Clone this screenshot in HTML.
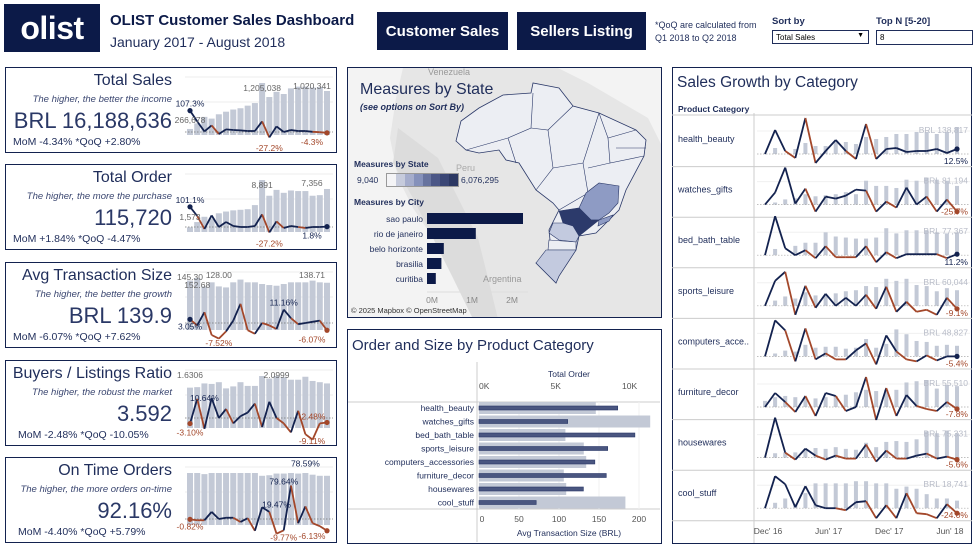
<!DOCTYPE html>
<html><head><meta charset="utf-8">
<style>
*{box-sizing:border-box;margin:0;padding:0}
body{width:977px;height:552px;background:#fff;font-family:"Liberation Sans",sans-serif;color:#1f2d5a;position:relative;overflow:hidden}
.abs{position:absolute}
.panel{position:absolute;border:1.5px solid #13224f;background:#fff}
.btn{position:absolute;background:#0c1a48;color:#fff;font-weight:bold;font-size:15px;display:flex;align-items:center;justify-content:center}
.kt{position:absolute;right:164px;font-size:16px;white-space:nowrap;text-align:right}
.ks{position:absolute;right:164px;font-size:9.5px;font-style:italic;white-space:nowrap;color:#3a4670}
.kv{position:absolute;right:164px;font-size:22px;white-space:nowrap;color:#2a3866}
.km{position:absolute;left:7px;font-size:10.5px;white-space:nowrap;color:#1f2d5a}
svg text{font-family:"Liberation Sans",sans-serif}
</style></head><body>

<div class="abs" style="left:4px;top:4px;width:96px;height:48px;background:#0c1a48;color:#fff;font-size:32px;font-weight:bold;display:flex;align-items:center;justify-content:center;letter-spacing:-0.5px">olist</div>
<div class="abs" style="left:110px;top:12px;font-size:15px;font-weight:bold;color:#0c1a48">OLIST Customer Sales Dashboard</div>
<div class="abs" style="left:110px;top:34px;font-size:14px;color:#1f2d5a">January 2017 - August 2018</div>
<div class="btn" style="left:377px;top:12px;width:131px;height:38px">Customer Sales</div>
<div class="btn" style="left:517px;top:12px;width:129px;height:38px">Sellers Listing</div>
<div class="abs" style="left:655px;top:19px;font-size:9px;line-height:13px;color:#1f2d5a">*QoQ are calculated from<br>Q1 2018 to Q2 2018</div>
<div class="abs" style="left:772px;top:16px;font-size:9.5px;font-weight:bold">Sort by</div>
<div class="abs" style="left:772px;top:30px;width:97px;height:14px;border:1px solid #1f2d5a;font-size:8px;padding:2px 3px;color:#000">Total Sales<span style="position:absolute;right:4px;top:1px;font-size:7px">▼</span></div>
<div class="abs" style="left:876px;top:16px;font-size:9.5px;font-weight:bold">Top N [5-20]</div>
<div class="abs" style="left:876px;top:30px;width:97px;height:15px;border:1px solid #1f2d5a;font-size:8px;padding:2px 3px;color:#000">8</div>

<!-- KPI cards -->
<div class="panel" style="left:5px;top:67px;width:332px;height:86px">
 <div class="kt" style="top:4px">Total Sales</div>
 <div class="ks" style="top:26px">The higher, the better the income</div>
 <div class="kv" style="top:40px">BRL 16,188,636</div>
 <div class="km" style="top:68px">MoM -4.34% *QoQ +2.80%</div>
</div>
<div class="panel" style="left:5px;top:164px;width:332px;height:86px">
 <div class="kt" style="top:4px">Total Order</div>
 <div class="ks" style="top:26px">The higher, the more the purchase</div>
 <div class="kv" style="top:40px">115,720</div>
 <div class="km" style="top:68px">MoM +1.84% *QoQ -4.47%</div>
</div>
<div class="panel" style="left:5px;top:262px;width:332px;height:86px">
 <div class="kt" style="top:4px">Avg Transaction Size</div>
 <div class="ks" style="top:26px">The higher, the better the growth</div>
 <div class="kv" style="top:40px">BRL 139.9</div>
 <div class="km" style="top:68px">MoM -6.07% *QoQ +7.62%</div>
</div>
<div class="panel" style="left:5px;top:360px;width:332px;height:86px">
 <div class="kt" style="top:4px">Buyers / Listings Ratio</div>
 <div class="ks" style="top:26px">The higher, the robust the market</div>
 <div class="kv" style="top:40px">3.592</div>
 <div class="km" style="top:68px;left:12px">MoM -2.48% *QoQ -10.05%</div>
</div>
<div class="panel" style="left:5px;top:457px;width:332px;height:86px">
 <div class="kt" style="top:4px">On Time Orders</div>
 <div class="ks" style="top:26px">The higher, the more orders on-time</div>
 <div class="kv" style="top:40px">92.16%</div>
 <div class="km" style="top:68px;left:12px">MoM -4.40% *QoQ +5.79%</div>
</div>

<!-- Map panel -->
<div class="panel" style="left:347px;top:67px;width:315px;height:251px;overflow:hidden">
<svg id="mapsvg" width="315" height="251" style="position:absolute;left:0;top:0">
 <rect width="315" height="251" fill="#f3f3f3"/>
 <polygon points="55,0 210,0 240,15 300,50 315,80 315,251 150,251 125,230 100,200 85,170 65,140 50,110 42,70 48,30" fill="#e6e6e6"/>
 <polygon points="50,60 90,90 110,130 130,170 140,210 150,251 125,251 105,210 85,170 65,130 45,95" fill="#dcdcdc"/>
 <text x="80" y="7" font-size="9" fill="#999">Venezuela</text>
 <text x="108" y="103" font-size="9" fill="#aaa">Peru</text>
 <text x="135" y="214" font-size="9" fill="#999">Argentina</text>
 <polygon points="108,73 113,53 131,40 155,27 183,25 185,15 211,20 225,38 251,45 288,62 298,72 296,88 278,122 271,142 265,148 248,165 231,168 228,182 211,208 208,215 188,195 203,182 201,162 211,142 205,135 188,122 171,95 158,92 151,82 131,85 118,82" fill="#eceef3" stroke="#2a3868" stroke-width="0.8"/>
 <g fill="none" stroke="#2a3868" stroke-width="0.6">
  <polyline points="118,82 160,70 183,60 185,25"/>
  <polyline points="160,70 168,95"/>
  <polyline points="183,60 200,62 225,38"/>
  <polyline points="200,62 205,100 188,122"/>
  <polyline points="205,100 235,95 251,45"/>
  <polyline points="235,95 240,125 211,142"/>
  <polyline points="251,45 260,70 288,62"/>
  <polyline points="260,70 262,95 296,88"/>
  <polyline points="262,95 240,100"/>
  <polyline points="268,80 298,80"/>
 </g>
 <polygon points="231,140 238,125 251,115 271,118 270,135 261,145 251,152 243,152" fill="#8e9bc4" stroke="#2a3868" stroke-width="0.6"/>
 <polygon points="211,143 231,140 243,152 251,152 231,168 225,158 215,155" fill="#2c3a6b" stroke="#2a3868" stroke-width="0.6"/>
 <polygon points="251,152 265,147 261,153 250,158" fill="#8e9bc4" stroke="#2a3868" stroke-width="0.6"/>
 <polygon points="205,155 215,155 225,158 231,168 228,174 211,172 201,165" fill="#c3cadf" stroke="#2a3868" stroke-width="0.6"/>
 <polygon points="201,172 228,174 228,182 200,182" fill="#eceef3" stroke="#2a3868" stroke-width="0.6"/>
 <polygon points="188,195 198,182 228,182 211,208 208,215" fill="#c3cadf" stroke="#2a3868" stroke-width="0.6"/>
</svg>
 <div class="abs" style="left:12px;top:13px;font-size:16px;color:#1f2d5a">Measures by State</div>
 <div class="abs" style="left:12px;top:34px;font-size:9px;font-style:italic;font-weight:bold;color:#1f2d5a">(see options on Sort By)</div>
 <div class="abs" style="left:6px;top:91px;font-size:8.5px;font-weight:bold">Measures by State</div>
 <div class="abs" style="left:9px;top:107px;font-size:8.5px">9,040</div>
 <div class="abs" style="left:38px;top:105px;width:73px;height:14px;border:1px solid #999;display:flex">
  <span style="flex:1;background:#f4f4f6"></span><span style="flex:1;background:#c6cbdc"></span><span style="flex:1;background:#a5adcc"></span><span style="flex:1;background:#8591bb"></span><span style="flex:1;background:#67739f"></span><span style="flex:1;background:#4c5787"></span><span style="flex:1;background:#3a4675"></span><span style="flex:1;background:#2c3863"></span>
 </div>
 <div class="abs" style="left:113px;top:107px;font-size:8.5px">6,076,295</div>
 <div class="abs" style="left:6px;top:129px;font-size:8.5px;font-weight:bold">Measures by City</div>
 <svg id="citysvg" width="200" height="120" style="position:absolute;left:0;top:140px"></svg>
 <div class="abs" style="left:3px;top:238px;font-size:7.5px;color:#333">© 2025 Mapbox © OpenStreetMap</div>
</div>

<!-- Order and size panel -->
<div class="panel" style="left:347px;top:329px;width:315px;height:215px">
 <div class="abs" style="left:4px;top:7px;font-size:15px;color:#1f2d5a">Order and Size by Product Category</div>
 <svg id="barsvg" width="312" height="180" style="position:absolute;left:0;top:32px"></svg>
</div>

<!-- Sales growth panel -->
<div class="panel" style="left:672px;top:67px;width:300px;height:477px">
 <div class="abs" style="left:4px;top:6px;font-size:15.5px;color:#1f2d5a">Sales Growth by Category</div>
 <div class="abs" style="left:5px;top:36px;font-size:8.5px;font-weight:bold">Product Category</div>
 <svg id="growthsvg" width="300" height="430" style="position:absolute;left:-1.5px;top:45px"></svg>
</div>

<svg id="kpisvg" width="977" height="552" style="position:absolute;left:0;top:0;pointer-events:none"></svg>

<script>
const NS='http://www.w3.org/2000/svg';
const NAVY='#13224f', BROWN='#a3472a', GREY='#c3c9d6';
function mk(p,tag,attrs){const e=document.createElementNS(NS,tag);for(const k in attrs)e.setAttribute(k,attrs[k]);p.appendChild(e);return e;}

// ---------- KPI data ----------
const salesBars=[140,270,420,380,480,540,590,620,680,740,1205,880,1000,950,1080,1120,1120,1100,1110,1020];
const salesGrowth=[107,53,3,33,-10,13,10,8,5,5,53,-27.2,28,0,10,5,5,1,-1,-4.3];
const orderBars=[800,1700,2600,2300,3200,3500,3700,3800,3900,4600,8891,6200,7200,6700,7100,7000,7000,6200,6300,7356];
const orderGrowth=[101,55,-10,58,0,25,5,0,0,5,63,-27.2,28,-5,5,0,-5,0,0,1.8];
const atsBars=[145.3,152.68,128,140,128,125,140,148,140,140,135,132,130,135,140,140,140,145,140,138.71];
const atsGrowth=[3.05,-2,9,-10,-13,-7,2,16,-6,-9,0,-2,-5,11.16,4,-1,0,1,2,-6.07];
const ratioBars=[1.63,1.65,1.8,1.78,1.85,1.6,1.68,1.85,1.7,1.7,2.1,2.0,2.1,2.05,1.95,1.95,2.07,1.9,1.85,1.8];
const ratioGrowth=[-3.1,10.64,-6,11,0,5,-3,1,3,8,-5,9,0,-3,-8,4,-9,-12,-3,-2.48];
const ontimeBars=[93,93,91,93,93,93,93,93,93,93,88,89,92,92,93,92,93,90,88,88];
const ontimeGrowth=[-0.82,-3,-3,17,0,3,3,-7,2,-28,28,17,-35,-27,79.64,-10,30,-10,-17,-28];
const salesLabels=[[0,'266,678',-12],[0,'107.3%',-4],[10,'1,205,038',-44],[11,'-27.2%',14],[18,'1,020,341',-46],[19,'-4.3%',12]];
const orderLabels=[[0,'1,573',-12],[0,'101.1%',-4],[10,'8,891',-44],[11,'-27.2%',14],[18,'7,356',-46],[19,'1.8%',12]];
const atsLabels=[[0,'145.30',-50],[1,'152.68',-42],[4,'128.00',-52],[18,'138.71',-52],[0,'3.05%',10],[4,'-7.52%',12],[13,'11.16%',-4],[19,'-6.07%',12]];
const ratioLabels=[[0,'1.6306',-50],[2,'10.64%',-28],[12,'2.0999',-50],[0,'-3.10%',12],[18,'-2.48%',-4],[17,'-9.11%',12]];
const ontimeLabels=[[13,'79.64%',-46],[16,'78.59%',-40],[12,'19.47%',-26],[0,'-0.82%',10],[13,'-9.77%',10],[19,'-6.13%',8]];

const kpis=[
 {name:'total-sales',top:67,bars:salesBars,g:salesGrowth,zero:65,ppu:0.2,labels:salesLabels},
 {name:'total-order',top:164,bars:orderBars,g:orderGrowth,zero:63,ppu:0.2,labels:orderLabels},
 {name:'avg-transaction',top:262,bars:atsBars,g:atsGrowth,zero:61,ppu:1.2,labels:atsLabels},
 {name:'buyers-listings',top:360,bars:ratioBars,g:ratioGrowth,zero:58,ppu:1.8,labels:ratioLabels},
 {name:'on-time',top:457,bars:ontimeBars,g:ontimeGrowth,zero:62,ppu:0.42,labels:ontimeLabels}
];
const ksvg=document.getElementById('kpisvg');
kpis.forEach(k=>{
  const g=mk(ksvg,'g',{});
  
  
  const x0=190,x1=327,n=k.bars.length,step=(x1-x0)/(n-1);
  const xs=i=>x0+i*step;
  const bmax=Math.max(...k.bars);
  const bbase=k.top+68, bh=52;
  const y0=k.top+k.zero;
  mk(g,'line',{x1:185,x2:333,y1:k.top+10,y2:k.top+10,stroke:'#eee'});
  mk(g,'line',{x1:185,x2:333,y1:k.top+35,y2:k.top+35,stroke:'#eee'});
  k.bars.forEach((v,i)=>{
    const h=v/bmax*bh;
    const r=mk(g,'rect',{x:xs(i)-3,y:bbase-h,width:6,height:h,fill:GREY});
    
    
  });
  mk(g,'line',{x1:185,x2:333,y1:y0,y2:y0,stroke:'#777','stroke-dasharray':'1.5,1.5','stroke-width':0.8});
  const ys=v=>y0-v*k.ppu;
  for(let i=1;i<n;i++){
    const s=mk(g,'line',{x1:xs(i-1),y1:ys(k.g[i-1]),x2:xs(i),y2:ys(k.g[i]),stroke:k.g[i]>=0?NAVY:BROWN,'stroke-width':1.8});
    
    
  }
  [0,n-1].forEach(i=>{const c=mk(g,'circle',{cx:xs(i),cy:ys(k.g[i]),r:2.6,fill:k.g[i]>=0?NAVY:BROWN});
    
    });
  k.labels.forEach(l=>{
    const isPct=l[1].indexOf('%')>=0;
    const neg=l[1][0]==='-';
    let yy=(isPct?ys(k.g[l[0]]):bbase)+l[2];
    yy=Math.min(yy,k.top+84);
    const t=mk(g,'text',{x:Math.min(xs(l[0]),312),y:yy,'font-size':8.5,fill:isPct?(neg?BROWN:NAVY):'#666','text-anchor':'middle'});
    t.textContent=l[1];
    
    
  });
});

// ---------- City bars ----------
const cities=['sao paulo','rio de janeiro','belo horizonte','brasilia','curitiba'];
const cityValues=[2.4,1.22,0.42,0.36,0.22];
const cityTicks=[0,1,2];
const cs=document.getElementById('citysvg');
const cx=v=>79+v*40;
cities.forEach((c,i)=>{
  const y=10+i*15;
  const t=mk(cs,'text',{x:75,y:y+4,'font-size':8.5,'text-anchor':'end',fill:'#1f2d5a'});t.textContent=c;
  
  
  const r=mk(cs,'rect',{x:79,y:y-5,width:cx(cityValues[i])-79,height:11,fill:'#0c1a48'});
  
  
});
mk(cs,'line',{x1:79,x2:180,y1:84,y2:84,stroke:'#ddd'});
cityTicks.forEach(v=>{const t=mk(cs,'text',{x:cx(v)+5,y:95,'font-size':8.5,'text-anchor':'middle',fill:'#888'});t.textContent=v+'M';
  
  });

// ---------- Category bars ----------
const categories=['health_beauty','watches_gifts','bed_bath_table','sports_leisure','computers_accessories','furniture_decor','housewares','cool_stuff'];
const totalOrders=[9.7,6.2,10.9,9.0,8.1,8.9,7.3,4.0];
const avgSize=[146,214,108,131,134,106,109,183];
const orderTicks=[0,5,10];
const sizeTicks=[0,50,100,150,200];
const bs=document.getElementById('barsvg');
const ox=v=>131+v*14.3;
const sx=v=>131+v*0.8;
mk(bs,'line',{x1:129,x2:129,y1:0,y2:180,stroke:'#ccc'});
mk(bs,'line',{x1:0,x2:312,y1:40,y2:40,stroke:'#ccc'});
mk(bs,'line',{x1:0,x2:312,y1:147,y2:147,stroke:'#ccc'});
let tt=mk(bs,'text',{x:221,y:15,'font-size':8.5,fill:'#1f2d5a','text-anchor':'middle'});tt.textContent='Total Order';


orderTicks.forEach(v=>{const t=mk(bs,'text',{x:ox(v*1),y:27,'font-size':8.5,fill:'#555'});t.textContent=v+'K';
  
  });
sizeTicks.forEach(v=>{
  mk(bs,'line',{x1:sx(v),x2:sx(v),y1:40,y2:147,stroke:'#f0f0f0'});
  const t=mk(bs,'text',{x:sx(v)+(v?0:3),y:160,'font-size':8.5,fill:'#555','text-anchor':'middle'});t.textContent=v;
  
  });
tt=mk(bs,'text',{x:221,y:174,'font-size':8.5,fill:'#1f2d5a','text-anchor':'middle'});tt.textContent='Avg Transaction Size (BRL)';


categories.forEach((c,i)=>{
  const y=46+i*13.5;
  const t=mk(bs,'text',{x:126,y:y+3,'font-size':8.5,fill:'#1f2d5a','text-anchor':'end'});t.textContent=c;
  
  
  const r=mk(bs,'rect',{x:131,y:y-6,width:sx(avgSize[i])-131,height:12,fill:GREY});
  
  
  const r2=mk(bs,'rect',{x:131,y:y-2,width:ox(totalOrders[i])-131,height:4,fill:'#4a5680',stroke:'#2a3868','stroke-width':0.6});
  
  
});

// ---------- Sales growth small multiples ----------
const growthCats=['health_beauty','watches_gifts','bed_bath_table','sports_leisure','computers_acce..','furniture_decor','housewares','cool_stuff'];
const growthLabels=['BRL 138,817','BRL 81,194','BRL 77,367','BRL 60,044','BRL 48,827','BRL 55,510','BRL 75,331','BRL 18,741'];
const growthEndLabels=['12.5%','-25.7%','11.2%','-9.1%','-5.4%','-7.8%','-5.6%','-24.0%'];
const gHealth=[0,24,3,-4,36,-9,3,14,3,-5,30,-5,5,6,2,3,3,5,1,5];
const gWatches=[0,12,37,1,16,-7,8,6,9,15,14,-7,3,-3,17,0,8,-7,5,-7];
const gBed=[0,39,7,0,5,-3,9,-2,-2,-2,9,-7,3,-3,1,1,1,1,-3,1];
const gSports=[0,25,34,-9,20,-2,12,0,8,0,11,-3,19,-6,4,-6,-4,-9,8,-3];
const gComputers=[0,36,26,-5,28,-3,3,-3,-3,6,13,-8,21,5,-3,-5,1,-4,0,0];
const gFurniture=[0,14,5,-5,11,-9,14,11,-4,0,30,-13,19,-9,12,1,-2,-4,5,-2];
const gHousewares=[0,40,5,-2,9,2,-2,2,-1,-1,13,-4,7,-1,-1,2,4,-1,1,-2];
const gCool=[0,32,24,1,22,3,0,0,-2,6,7,-10,3,-10,15,-5,-6,-10,4,-5];
const bHealth=[0,6,0,5,11,8,8,13,12,10,17,15,17,20,20,22,22,20,22,27];
const bWatches=[0,2,5,6,10,8,9,10,12,10,23,18,18,16,24,23,26,24,23,18];
const bBed=[0,6,0,9,12,12,22,18,17,16,16,17,26,21,24,24,24,22,21,22];
const bSports=[0,5,9,7,13,10,10,12,14,15,19,18,26,24,26,20,19,14,17,15];
const bComputers=[0,3,6,5,12,9,10,10,8,9,18,9,13,28,23,16,15,11,12,11];
const bFurniture=[5,8,9,8,8,7,8,9,10,12,14,13,14,14,20,21,22,15,18,17];
const bHousewares=[0,5,6,6,10,11,10,12,10,9,17,12,18,19,18,21,30,28,31,28];
const bCool=[0,5,9,4,14,23,23,23,23,25,25,23,23,18,20,18,13,9,9,7];
const growthSeries=[gHealth,gWatches,gBed,gSports,gComputers,gFurniture,gHousewares,gCool];
const barSeries=[bHealth,bWatches,bBed,bSports,bComputers,bFurniture,bHousewares,bCool];
const monthTicks=["Dec' 16","Jun' 17","Dec' 17","Jun' 18"];
const monthTickIdx=[0,6,12,18];

const gs=document.getElementById('growthsvg');
const rowH=50.6, gx0=93, gx1=285;
const gxs=i=>gx0+i*(gx1-gx0)/19;
mk(gs,'line',{x1:82,x2:82,y1:0,y2:430,stroke:'#ccc'});
mk(gs,'line',{x1:0,x2:300,y1:2,y2:2,stroke:'#ccc'});
growthCats.forEach((c,r)=>{
  const top=3+r*rowH;
  mk(gs,'line',{x1:0,x2:300,y1:top+rowH,y2:top+rowH,stroke:'#ccc'});
  const t=mk(gs,'text',{x:6,y:top+26,'font-size':9,fill:'#1f2d5a'});t.textContent=c;
  
  
  const base=top+38;
  mk(gs,'line',{x1:85,x2:298,y1:top+15,y2:top+15,stroke:'#f0f0f0'});
  const bars=barSeries[r], bm=Math.max(...bars);
  bars.forEach((v,i)=>{
    const h=v/bm*27;
    const b=mk(gs,'rect',{x:gxs(i)-2,y:base-h,width:4,height:h,fill:GREY});
    
    
  });
  mk(gs,'line',{x1:85,x2:298,y1:base,y2:base,stroke:'#aaa','stroke-dasharray':'1.5,1.5','stroke-width':0.7});
  const g=growthSeries[r];
  for(let i=1;i<20;i++){
    const s=mk(gs,'line',{x1:gxs(i-1),y1:base-g[i-1],x2:gxs(i),y2:base-g[i],stroke:g[i]>=0?NAVY:BROWN,'stroke-width':1.8});
    
    
  }
  const c2=mk(gs,'circle',{cx:gxs(19),cy:base-g[19],r:2.6,fill:g[19]>=0?NAVY:BROWN});
  
  
  const l=mk(gs,'text',{x:296,y:top+17,'font-size':8.5,fill:'#b8bcc8','text-anchor':'end'});l.textContent=growthLabels[r];
  
  
  const neg=growthEndLabels[r][0]==='-';
  const e=mk(gs,'text',{x:296,y:base+10,'font-size':8.5,fill:neg?BROWN:NAVY,'text-anchor':'end'});e.textContent=growthEndLabels[r];
  
  
});
monthTickIdx.forEach((idx,k)=>{
  const t=mk(gs,'text',{x:gxs(idx)+3,y:3+8*rowH+13,'font-size':8.5,fill:'#555','text-anchor':'middle'});t.textContent=monthTicks[k];
  
  
});
</script>
</body></html>
